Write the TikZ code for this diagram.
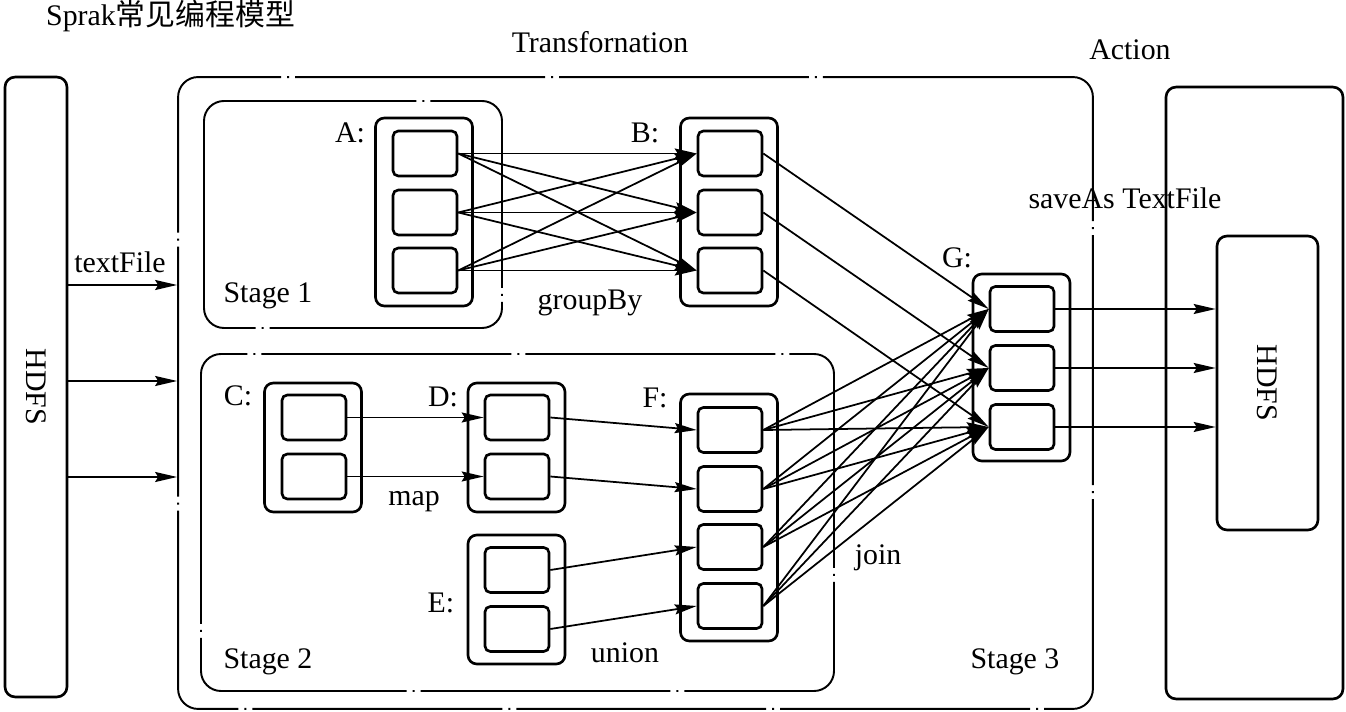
\documentclass[tikz,border=0pt]{standalone}
\usepackage{fontspec}
\setmainfont{Liberation Serif}
\newfontfamily\cjk{Noto Sans CJK SC}
\usetikzlibrary{positioning, arrows.meta}

\begin{document}
\begin{tikzpicture}[x=0.02cm, y=-0.02cm,
  every node/.style={font=\fontsize{17}{20}\selectfont},
  cell/.style={draw, line width=1.5pt, rounded corners=3pt, minimum width=1.28cm, minimum height=0.9cm, inner sep=0pt},
  group/.style={draw, line width=1.5pt, rounded corners=5pt, minimum width=1.94cm, inner sep=0pt},
  dashdot/.style={line width=1.1pt, rounded corners=0.4cm, dash pattern=on 5cm off 0.12cm on 0.04cm off 0.12cm},
  flow/.style={line width=1pt, -{Stealth[length=0.44cm, width=0.2cm, inset=0.06cm]}}]
\useasboundingbox (0,0) rectangle (1346,712);
% Title and top labels
\node[anchor=west] (title) at (40,16) {Sprak\cjk 常见编程模型};
\node (tlbl) at (600,42) {Transfornation};
\node (albl) at (1130,50) {Action};
% HDFS source
\node[draw, line width=1.5pt, rounded corners=0.2cm, minimum width=1.24cm, minimum height=12.4cm] (hdfsL) at (36,387) {};
\node[rotate=-90] at (hdfsL) {HDFS};
% Transformation box and stages
\node[draw, dashdot, minimum width=18.3cm, minimum height=12.64cm] (trans) at (635.5,393) {};
\draw[dashdot] (204,101) rectangle (502,328);
\draw[dashdot] (201,354) rectangle (834,691);
\node at (268,296) {Stage 1};
\node at (268,662) {Stage 2};
\node at (1015,662) {Stage 3};
% Action box with HDFS target
\node[draw, line width=1.5pt, rounded corners=0.2cm, minimum width=3.54cm, minimum height=12.24cm] (act) at (1254.5,393) {};
\node[draw, line width=1.5pt, rounded corners=0.2cm, minimum width=2.02cm, minimum height=5.88cm] (hdfsR) at (1267.5,383) {};
\node[rotate=-90] at (hdfsR) {HDFS};
% RDD groups
\node[group, minimum height=3.76cm] (gA) at (424,212) {};
\node[group, minimum height=3.76cm] (gB) at (729,212) {};
\node[group, minimum height=2.58cm] (gC) at (313,447.5) {};
\node[group, minimum height=2.58cm] (gD) at (516.5,447.5) {};
\node[group, minimum height=2.58cm] (gE) at (516.5,599.5) {};
\node[group, minimum height=4.94cm] (gF) at (729,517.5) {};
\node[group, minimum height=3.74cm] (gG) at (1021.5,367.5) {};
\node at (350,133) {A:};
\node at (645,133) {B:};
\node at (238,396) {C:};
\node at (443,397) {D:};
\node at (441,603) {E:};
\node at (655,398) {F:};
\node at (957,258) {G:};
% Partitions
\foreach \n/\y in {1/153.5, 2/212.5, 3/270.5} {
  \node[cell] (a\n) at (425,\y) {};
  \node[cell] (b\n) at (730,\y) {};
}
\foreach \n/\y in {1/417.5, 2/476.5} {
  \node[cell] (c\n) at (314,\y) {};
  \node[cell] (d\n) at (517,\y) {};
}
\foreach \n/\y in {1/570, 2/629} \node[cell] (e\n) at (517,\y) {};
\foreach \n/\y in {1/430, 2/489, 3/547, 4/606} \node[cell] (f\n) at (730,\y) {};
\foreach \n/\y in {1/309, 2/368, 3/427} \node[cell] (g\n) at (1022,\y) {};
% textFile
\foreach \y in {285, 381, 477} {
  \coordinate (in\y) at (0,\y);
  \draw[flow] (hdfsL.east |- in\y) -- (trans.west |- in\y);
}
\node at (120,262) {textFile};
% groupBy
\foreach \i in {1,2,3}
  \foreach \j in {1,2,3}
    \draw[flow] (a\i.east) -- (b\j.west);
\node at (590,303) {groupBy};
% map and union
\draw[flow] (c1.east) -- (d1.west);
\draw[flow] (c2.east) -- (d2.west);
\node at (414,502) {map};
\draw[flow] (d1.east) -- (f1.west);
\draw[flow] (d2.east) -- (f2.west);
\draw[flow] (e1.east) -- (f3.west);
\draw[flow] (e2.east) -- (f4.west);
\node at (625,653) {union};
% join
\foreach \n in {1,2,3} \draw[flow] (b\n.east) -- (g\n.west);
\foreach \i in {1,2,3,4}
  \foreach \j in {1,2,3}
    \draw[flow] (f\i.east) -- (g\j.west);
\node at (878,558) {join};
% saveAs TextFile
\foreach \n in {1,2,3} \draw[flow] (g\n.east) -- (g\n.east -| hdfsR.west);
\node at (1125,198) {saveAs TextFile};
\end{tikzpicture}
\end{document}
